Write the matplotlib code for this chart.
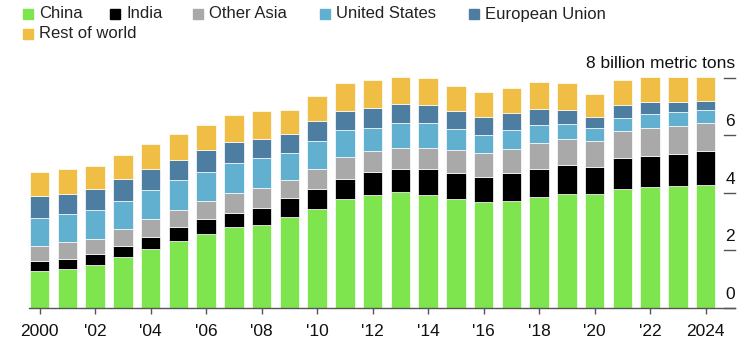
import numpy as np
import matplotlib
matplotlib.use("Agg")
import matplotlib.pyplot as plt
from matplotlib.patches import Rectangle

plt.rcParams["font.family"] = ["Liberation Sans", "DejaVu Sans"]

# Emissions by region, billion metric tons
years = list(range(2000, 2025))
china = [1.28, 1.35, 1.47, 1.75, 2.03, 2.31, 2.55, 2.79, 2.88, 3.15, 3.43, 3.79, 3.92,
         4.04, 3.92, 3.79, 3.68, 3.72, 3.84, 3.94, 3.94, 4.12, 4.20, 4.23, 4.27]
india = [0.35, 0.36, 0.40, 0.39, 0.44, 0.49, 0.52, 0.52, 0.59, 0.65, 0.70, 0.70, 0.80,
         0.80, 0.92, 0.89, 0.88, 0.96, 1.00, 1.02, 0.97, 1.09, 1.08, 1.13, 1.18]
other_asia = [0.53, 0.57, 0.52, 0.58, 0.61, 0.60, 0.65, 0.68, 0.70, 0.64, 0.71, 0.75, 0.72,
              0.73, 0.73, 0.79, 0.81, 0.85, 0.89, 0.92, 0.89, 0.93, 0.96, 0.97, 0.99]
united_states = [0.96, 0.97, 1.02, 1.00, 1.00, 1.04, 1.00, 1.04, 1.03, 0.93, 0.97, 0.94, 0.81,
                 0.85, 0.85, 0.74, 0.64, 0.64, 0.64, 0.52, 0.44, 0.45, 0.49, 0.48, 0.45]
european_union = [0.77, 0.71, 0.71, 0.75, 0.75, 0.71, 0.77, 0.75, 0.67, 0.67, 0.67, 0.66, 0.71,
                  0.68, 0.63, 0.63, 0.63, 0.60, 0.55, 0.46, 0.38, 0.45, 0.42, 0.34, 0.31]
rest_of_world = [0.82, 0.85, 0.80, 0.84, 0.88, 0.89, 0.87, 0.93, 0.96, 0.83, 0.88, 0.96, 0.96,
                 0.92, 0.93, 0.88, 0.85, 0.87, 0.93, 0.94, 0.81, 0.88, 0.89, 0.89, 0.84]

series = [
    ("China", china, "#7ee54f"),
    ("India", india, "#000000"),
    ("Other Asia", other_asia, "#a9a9a9"),
    ("United States", united_states, "#61b0cf"),
    ("European Union", european_union, "#4d7ea2"),
    ("Rest of world", rest_of_world, "#f0be45"),
]

tick_years = list(range(2000, 2025, 2))
tick_labels = ["2000"] + [f"'{y % 100:02d}" for y in tick_years[1:-1]] + ["2024"]
y_ticks = [0, 2, 4, 6]

W, H = 752, 346
fig = plt.figure(figsize=(W / 100, H / 100), dpi=100)
ax = fig.add_axes([29 / W, 38.3 / H, 706 / W, 244.4 / H])

bottom = np.zeros(len(years))
for name, vals, color in series:
    ax.bar(years, vals, width=0.7, bottom=bottom, color=color,
           edgecolor="white", linewidth=0.5)
    bottom += np.array(vals)

ax.set_xlim(1999.62, 2025.06)
ax.set_ylim(0, 8.5)

for side in ["top", "left", "right"]:
    ax.spines[side].set_visible(False)
ax.spines["bottom"].set_color("#555555")
ax.spines["bottom"].set_linewidth(1.0)

ax.set_xticks(tick_years)
ax.set_xticklabels(tick_labels, fontsize=12.5, color="#111111")
ax.tick_params(axis="x", length=4.5, width=1, color="#555555", pad=7)
ax.set_yticks([])

# right-hand value ticks: short dashes with labels sitting above them
dash_x0, dash_x1 = 2024.67, 2025.06
for v in y_ticks + [8]:
    ax.plot([dash_x0, dash_x1], [v, v], color="#555555", lw=1, clip_on=False)
for v in y_ticks:
    ax.text(dash_x1, v + 0.31, str(v), ha="right", va="baseline",
            fontsize=12.5, color="#111111")
ax.text(dash_x1 + 0.02, 8.33, "8 billion metric tons", ha="right", va="baseline",
        fontsize=12.5, color="#111111", clip_on=False)

# legend drawn by hand in pixel positions
legend_pos = [(23, 14), (110, 14), (193, 14), (320, 14), (469, 14), (23, 34)]
for (name, _, color), (px, py) in zip(series, legend_pos):
    fig.patches.append(Rectangle((px / W, 1 - (py + 5) / H), 10 / W, 10 / H,
                                 transform=fig.transFigure, color=color))
    fig.text((px + 16) / W, 1 - py / H, name, ha="left", va="center",
             fontsize=12, color="#222222")

fig.savefig("out.png", dpi=100)
